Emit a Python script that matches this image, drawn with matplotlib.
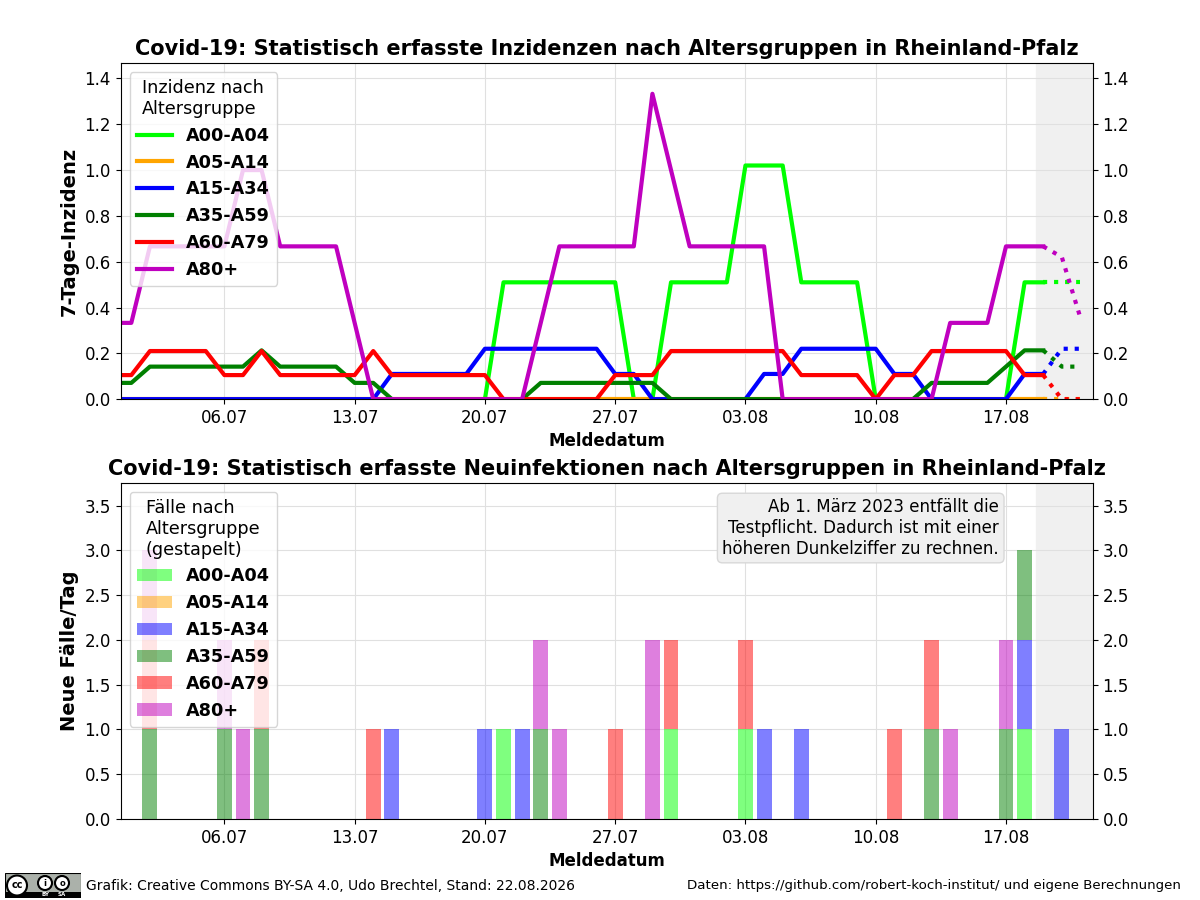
import numpy as np
import pandas as pd
import matplotlib
matplotlib.use("Agg")
import matplotlib.pyplot as plt
import matplotlib.dates as mdates
from matplotlib.patches import Circle, Rectangle

gruppen = ["A00-A04", "A05-A14", "A15-A34", "A35-A59", "A60-A79", "A80+"]
farben = ["lime", "orange", "blue", "green", "red", "m"]

# 7-Tage-Inzidenz, 30.06. bis 19.08.
tage = pd.date_range("2026-06-30", "2026-08-19")
inz_a00 = [0, 0, 0, 0, 0, 0, 0, 0, 0, 0,
           0, 0, 0, 0, 0, 0, 0, 0, 0, 0,
           0, .51, .51, .51, .51, .51, .51, .51, 0, 0,
           .51, .51, .51, .51, 1.02, 1.02, 1.02, .51, .51, .51,
           .51, 0, 0, 0, 0, 0, 0, 0, 0, .51,
           .51]
inz_a05 = [0, 0, 0, 0, 0, 0, 0, 0, 0, 0,
           0, 0, 0, 0, 0, 0, 0, 0, 0, 0,
           0, 0, 0, 0, 0, 0, 0, 0, 0, 0,
           0, 0, 0, 0, 0, 0, 0, 0, 0, 0,
           0, 0, 0, 0, 0, 0, 0, 0, 0, 0,
           0]
inz_a15 = [0, 0, 0, 0, 0, 0, 0, 0, 0, 0,
           0, 0, 0, 0, 0, .11, .11, .11, .11, .11,
           .22, .22, .22, .22, .22, .22, .22, .11, .11, 0,
           0, 0, 0, 0, 0, .11, .11, .22, .22, .22,
           .22, .22, .11, .11, 0, 0, 0, 0, 0, .11,
           .11]
inz_a35 = [.071, .071, .142, .142, .142, .142, .142, .142, .213, .142,
           .142, .142, .142, .071, .071, 0, 0, 0, 0, 0,
           0, 0, 0, .071, .071, .071, .071, .071, .071, .071,
           0, 0, 0, 0, 0, 0, 0, 0, 0, 0,
           0, 0, 0, 0, .071, .071, .071, .071, .142, .213,
           .213]
inz_a60 = [.105, .105, .21, .21, .21, .21, .105, .105, .21, .105,
           .105, .105, .105, .105, .21, .105, .105, .105, .105, .105,
           .105, 0, 0, 0, 0, 0, 0, .105, .105, .105,
           .21, .21, .21, .21, .21, .21, .21, .105, .105, .105,
           .105, 0, .105, .105, .21, .21, .21, .21, .21, .105,
           .105]
inz_a80 = [.333, .333, .667, .667, .667, .667, .667, 1.0, 1.0, .667,
           .667, .667, .667, .333, 0, 0, 0, 0, 0, 0,
           0, 0, 0, .333, .667, .667, .667, .667, .667, 1.333,
           1.0, .667, .667, .667, .667, .667, 0, 0, 0, 0,
           0, 0, 0, 0, 0, .333, .333, .333, .667, .667,
           .667]

# Prognose (gepunktet), 19.08. bis 21.08.
prog_tage = pd.date_range("2026-08-19", "2026-08-21")
prog_a00 = [.51, .51, .51]
prog_a05 = [0, 0, 0]
prog_a15 = [.11, .22, .22]
prog_a35 = [.213, .142, .142]
prog_a60 = [.105, 0, 0]
prog_a80 = [.667, .62, .355]

# Neue Faelle pro Tag, 30.06. bis 20.08.
bar_tage = pd.date_range("2026-06-30", "2026-08-20")
fall_a00 = [0, 0, 0, 0, 0, 0, 0, 0, 0, 0,
            0, 0, 0, 0, 0, 0, 0, 0, 0, 0,
            0, 1, 0, 0, 0, 0, 0, 0, 0, 0,
            1, 0, 0, 0, 1, 0, 0, 0, 0, 0,
            0, 0, 0, 0, 0, 0, 0, 0, 0, 1,
            0, 0]
fall_a05 = [0, 0, 0, 0, 0, 0, 0, 0, 0, 0,
            0, 0, 0, 0, 0, 0, 0, 0, 0, 0,
            0, 0, 0, 0, 0, 0, 0, 0, 0, 0,
            0, 0, 0, 0, 0, 0, 0, 0, 0, 0,
            0, 0, 0, 0, 0, 0, 0, 0, 0, 0,
            0, 0]
fall_a15 = [0, 0, 0, 0, 0, 0, 0, 0, 0, 0,
            0, 0, 0, 0, 0, 1, 0, 0, 0, 0,
            1, 0, 1, 0, 0, 0, 0, 0, 0, 0,
            0, 0, 0, 0, 0, 1, 0, 1, 0, 0,
            0, 0, 0, 0, 0, 0, 0, 0, 0, 1,
            0, 1]
fall_a35 = [0, 0, 1, 0, 0, 0, 1, 0, 1, 0,
            0, 0, 0, 0, 0, 0, 0, 0, 0, 0,
            0, 0, 0, 1, 0, 0, 0, 0, 0, 0,
            0, 0, 0, 0, 0, 0, 0, 0, 0, 0,
            0, 0, 0, 0, 1, 0, 0, 0, 1, 1,
            0, 0]
fall_a60 = [0, 0, 1, 0, 0, 0, 0, 0, 1, 0,
            0, 0, 0, 0, 1, 0, 0, 0, 0, 0,
            0, 0, 0, 0, 0, 0, 0, 1, 0, 0,
            1, 0, 0, 0, 1, 0, 0, 0, 0, 0,
            0, 0, 1, 0, 1, 0, 0, 0, 0, 0,
            0, 0]
fall_a80 = [0, 0, 1, 0, 0, 0, 1, 1, 0, 0,
            0, 0, 0, 0, 0, 0, 0, 0, 0, 0,
            0, 0, 0, 1, 1, 0, 0, 0, 0, 2,
            0, 0, 0, 0, 0, 0, 0, 0, 0, 0,
            0, 0, 0, 0, 0, 1, 0, 0, 1, 0,
            0, 0]

inz = [inz_a00, inz_a05, inz_a15, inz_a35, inz_a60, inz_a80]
prog = [prog_a00, prog_a05, prog_a15, prog_a35, prog_a60, prog_a80]
faelle = [fall_a00, fall_a05, fall_a15, fall_a35, fall_a60, fall_a80]

start = mdates.date2num(pd.Timestamp("2026-06-30"))
xlim = (start + 0.43, start + 52.66)
grau_ab = start + 49.6

fig, (ax1, ax2) = plt.subplots(2, 1, figsize=(12, 9), dpi=100)
fig.subplots_adjust(left=0.1006, right=0.9106, top=0.9297, bottom=0.09, hspace=0.25)

for ax in (ax1, ax2):
    ax.axvspan(grau_ab, xlim[1], color="#f0f0f0", zorder=0)
    ax.grid(True, color="#e0e0e0", zorder=0)
    ax.set_axisbelow(True)

# oben: Inzidenzen
for g, f, y, p in zip(gruppen, farben, inz, prog):
    ax1.plot(tage, y, color=f, lw=3, label=g)
    ax1.plot(prog_tage, p, color=f, lw=3, ls=":")

ax1.set_xlim(xlim)
ax1.set_ylim(0, 1.333 * 1.1)
ax1.set_title("Covid-19: Statistisch erfasste Inzidenzen nach Altersgruppen in Rheinland-Pfalz",
              fontsize=15, fontweight="bold")
ax1.set_ylabel("7-Tage-Inzidenz", fontsize=14, fontweight="bold")
ax1.set_xlabel("Meldedatum", fontsize=12, fontweight="bold")
ax1.legend(title="Inzidenz nach\nAltersgruppe", loc="upper left",
           prop={"size": 12.7, "weight": "bold"}, title_fontsize=12.7)

# unten: Faelle gestapelt
boden = np.zeros(len(bar_tage))
for g, f, y in zip(gruppen, farben, faelle):
    ax2.bar(bar_tage, y, bottom=boden, width=0.8, color=f, alpha=0.5, label=g, zorder=2)
    boden += np.array(y)

ax2.set_xlim(xlim)
ax2.set_ylim(0, 3 * 1.25)
ax2.set_title("Covid-19: Statistisch erfasste Neuinfektionen nach Altersgruppen in Rheinland-Pfalz",
              fontsize=15, fontweight="bold")
ax2.set_ylabel("Neue Fälle/Tag", fontsize=14, fontweight="bold")
ax2.set_xlabel("Meldedatum", fontsize=12, fontweight="bold")
ax2.legend(title="Fälle nach\nAltersgruppe\n(gestapelt)", loc="upper left",
           prop={"size": 12.7, "weight": "bold"}, title_fontsize=12.7)
ax2.text(0.9036, 0.955, "Ab 1. März 2023 entfällt die\nTestpflicht. Dadurch ist mit einer\nhöheren Dunkelziffer zu rechnen.",
         transform=ax2.transAxes, ha="right", va="top", fontsize=12, zorder=5,
         bbox=dict(boxstyle="round,pad=0.3", facecolor="#f0f0f0", edgecolor="#d8d8d8"))

for ax in (ax1, ax2):
    ax.xaxis.set_major_locator(mdates.WeekdayLocator(byweekday=mdates.MO))
    ax.xaxis.set_major_formatter(mdates.DateFormatter("%d.%m"))
    ax.tick_params(axis="both", labelsize=12)
    ax.tick_params(axis="y", right=True, labelright=True)

# Fusszeile
fig.text(0.0717, 0.0156, "Grafik: Creative Commons BY-SA 4.0, Udo Brechtel, Stand: 22.08.2026",
         fontsize=10, va="center")
fig.text(0.984, 0.0156, "Daten: https://github.com/robert-koch-institut/ und eigene Berechnungen",
         fontsize=9.6, va="center", ha="right")

cc = fig.add_axes([5 / 1200, 2 / 900, 76 / 1200, 25 / 900])
cc.set_xlim(0, 76)
cc.set_ylim(0, 25)
cc.axis("off")
cc.add_patch(Rectangle((0, 0), 76, 25, facecolor="#abb1aa", edgecolor="black", lw=0.8))
cc.add_patch(Rectangle((0, 0), 76, 6, facecolor="black"))
cc.add_patch(Circle((12, 12.5), 10, facecolor="white", edgecolor="black", lw=1.5))
cc.text(12, 12.5, "cc", ha="center", va="center", fontsize=7, fontweight="bold")
for cx, sym in ((40, "i"), (57, "o")):
    cc.add_patch(Circle((cx, 15), 7, facecolor="white", edgecolor="black", lw=1.5))
    cc.text(cx, 15, sym, ha="center", va="center", fontsize=6, fontweight="bold")
cc.text(40, 3, "BY", ha="center", va="center", fontsize=4, color="white", fontweight="bold")
cc.text(57, 3, "SA", ha="center", va="center", fontsize=4, color="white", fontweight="bold")

fig.savefig("out.png", dpi=100)
